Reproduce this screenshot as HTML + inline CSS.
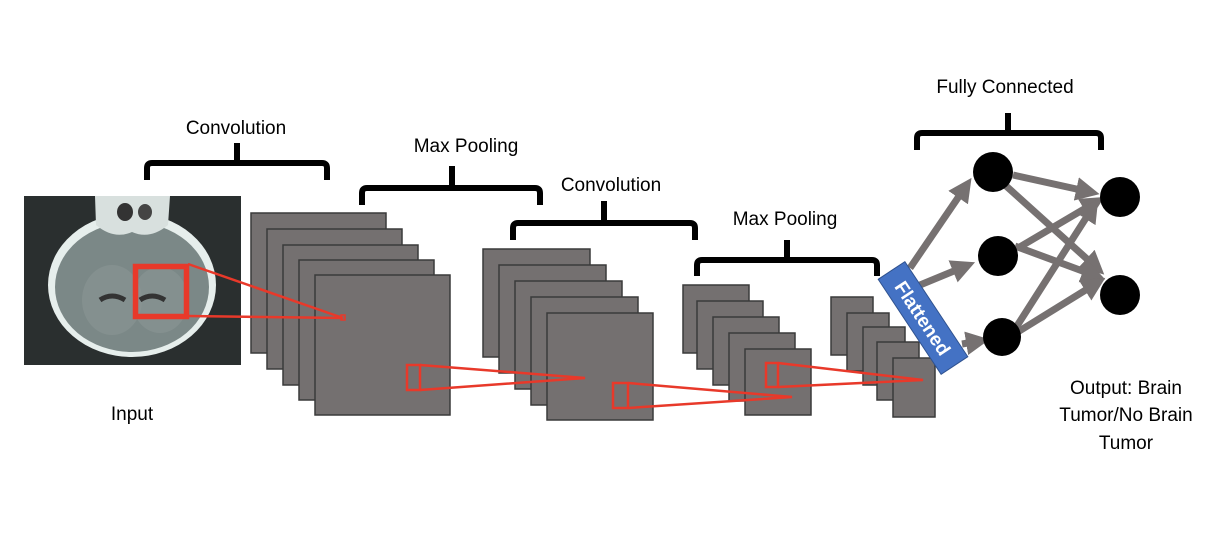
<!DOCTYPE html>
<html><head><meta charset="utf-8"><style>
html,body{margin:0;padding:0;background:#fff;}
svg{display:block;}
text{font-family:"Liberation Sans",sans-serif;font-size:19px;fill:#000;}
</style></head><body>
<svg width="1210" height="552" viewBox="0 0 1210 552" xmlns="http://www.w3.org/2000/svg">
<defs>
<marker id="ah" markerWidth="3.4" markerHeight="3.4" refX="2" refY="1.7" orient="auto" markerUnits="strokeWidth">
<path d="M0,0 L3.4,1.7 L0,3.4 z" fill="#767171"/>
</marker>
</defs>
<!-- labels -->
<text x="236" y="134" text-anchor="middle">Convolution</text>
<text x="466" y="152" text-anchor="middle">Max Pooling</text>
<text x="611" y="191" text-anchor="middle">Convolution</text>
<text x="785" y="225" text-anchor="middle">Max Pooling</text>
<text x="1005" y="93" text-anchor="middle">Fully Connected</text>
<text x="132" y="420" text-anchor="middle">Input</text>
<text x="1126" y="394" text-anchor="middle">Output: Brain</text>
<text x="1126" y="421" text-anchor="middle">Tumor/No Brain</text>
<text x="1126" y="449" text-anchor="middle">Tumor</text>
<!-- braces -->
<g fill="none" stroke="#000" stroke-width="6" stroke-linejoin="round">
<path d="M147,180 V168 Q147,163 152,163 H322 Q327,163 327,168 V180 M237,163 V143"/>
<path d="M362,205 V193 Q362,188 367,188 H535 Q540,188 540,193 V205 M452,188 V166"/>
<path d="M513,240 V228 Q513,223 518,223 H690 Q695,223 695,228 V240 M604,223 V201"/>
<path d="M697,276 V265 Q697,260 702,260 H872 Q877,260 877,265 V276 M787,260 V240"/>
<path d="M917,150 V138 Q917,133 922,133 H1096 Q1101,133 1101,138 V150 M1008,133 V113"/>
</g>
<!-- input image -->
<rect x="24" y="196" width="217" height="169" fill="#2a2f2f"/>
<ellipse cx="132" cy="285" rx="84" ry="72" fill="#e6eeec"/>
<ellipse cx="132" cy="287" rx="77" ry="65" fill="#7b8887"/>
<ellipse cx="112" cy="300" rx="30" ry="35" fill="#8a9695" opacity="0.6"/>
<ellipse cx="160" cy="300" rx="28" ry="33" fill="#8a9695" opacity="0.6"/>
<path d="M95,196 L170,196 L168,225 Q150,240 132,232 Q114,240 96,225 z" fill="#d8e0de"/>
<ellipse cx="125" cy="212" rx="8" ry="9" fill="#333"/>
<ellipse cx="145" cy="212" rx="7" ry="8" fill="#444"/>
<path d="M100,300 q12,-8 25,0 M140,300 q12,-8 25,0" stroke="#333" stroke-width="5" fill="none"/>
<!-- stacks -->
<g fill="#747070" stroke="#3a3a3a" stroke-width="1.5">
<rect x="251" y="213" width="135" height="140"/>
<rect x="267" y="229" width="135" height="140"/>
<rect x="283" y="245" width="135" height="140"/>
<rect x="299" y="260" width="135" height="140"/>
<rect x="315" y="275" width="135" height="140"/>
<rect x="483" y="249" width="107" height="108"/>
<rect x="499" y="265" width="107" height="108"/>
<rect x="515" y="281" width="107" height="108"/>
<rect x="531" y="297" width="107" height="108"/>
<rect x="547" y="313" width="106" height="107"/>
<rect x="683" y="285" width="66" height="68"/>
<rect x="697" y="301" width="66" height="68"/>
<rect x="713" y="317" width="66" height="68"/>
<rect x="729" y="333" width="66" height="68"/>
<rect x="745" y="349" width="66" height="66"/>
<rect x="831" y="297" width="42" height="58"/>
<rect x="847" y="313" width="42" height="58"/>
<rect x="863" y="327" width="42" height="58"/>
<rect x="877" y="342" width="42" height="58"/>
<rect x="893" y="358" width="42" height="59"/>
</g>
<!-- red -->
<g fill="none" stroke="#e8392a" stroke-width="2.5">
<rect x="135.5" y="266.5" width="51" height="50" stroke-width="5.5"/>
<path d="M188,264 L343,318 L188,316"/>
<rect x="341" y="315" width="4" height="5" stroke-width="1.5"/>
<rect x="407" y="365" width="13" height="25"/>
<path d="M420,365 L585,378 L420,390"/>
<rect x="613" y="383" width="15" height="25"/>
<path d="M628,383 L792,397 L628,408"/>
<rect x="766" y="363" width="12" height="24"/>
<path d="M778,363 L923,380 L778,387"/>
</g>
<!-- arrows -->
<g stroke="#767171" stroke-width="7" fill="none" marker-end="url(#ah)">
<line x1="910" y1="268" x2="966" y2="186"/>
<line x1="920" y1="285" x2="966" y2="266"/>
<line x1="962" y1="344" x2="980" y2="341"/>
<line x1="1013" y1="175" x2="1090" y2="192"/>
<line x1="1005" y1="185" x2="1097" y2="268"/>
<line x1="1018" y1="248" x2="1096" y2="202"/>
<line x1="1015" y1="246" x2="1096" y2="276"/>
<line x1="1008" y1="340" x2="1093" y2="207"/>
<line x1="1008" y1="338" x2="1097" y2="283"/>
</g>
<!-- nodes -->
<g fill="#000">
<circle cx="993" cy="172" r="20"/>
<circle cx="998" cy="256" r="20"/>
<circle cx="1002" cy="337" r="19"/>
<circle cx="1120" cy="197" r="20"/>
<circle cx="1120" cy="295" r="20"/>
</g>
<!-- flattened -->
<g transform="translate(923,318) rotate(56.5)">
<rect x="-57" y="-16" width="114" height="32" fill="#4472c4" stroke="#2f528f" stroke-width="1"/>
<text x="0" y="7" text-anchor="middle" style="font-weight:bold;font-size:19px;fill:#fff">Flattened</text>
</g>
</svg>
</body></html>
